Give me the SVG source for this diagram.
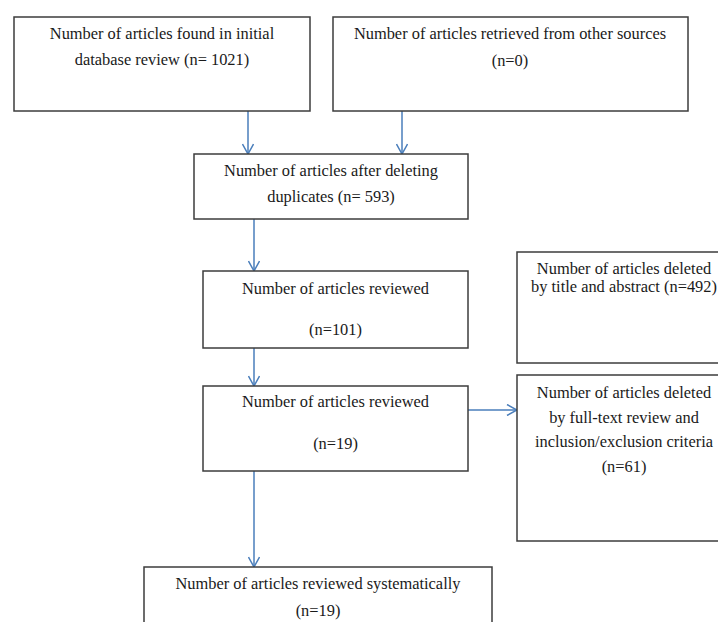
<svg xmlns="http://www.w3.org/2000/svg" width="718" height="622" viewBox="0 0 718 622">
  <style>
    .box { fill: #ffffff; stroke: #3c3c3c; stroke-width: 1.5; }
    .t { font-family: "Liberation Serif", "Times New Roman", serif; font-size: 16.4px; fill: #1a1a1a; text-anchor: middle; }
    .conn { stroke: #4a7ebb; stroke-width: 1.5; fill: none; marker-end: url(#arr); }
  </style>
  <defs>
    <marker id="arr" viewBox="0 0 12 12" refX="11" refY="6" markerWidth="12" markerHeight="12" markerUnits="userSpaceOnUse" orient="auto">
      <path d="M1,0.5 L11,6 L1,11.5" fill="none" stroke="#4a7ebb" stroke-width="1.5"/>
    </marker>
  </defs>
  <rect width="718" height="622" fill="#ffffff"/>

  <g id="connectors">
    <line class="conn" x1="248" y1="111" x2="248" y2="154"/>
    <line class="conn" x1="402" y1="111" x2="402" y2="154"/>
    <line class="conn" x1="254" y1="219" x2="254" y2="271"/>
    <line class="conn" x1="254" y1="348" x2="254" y2="386"/>
    <line class="conn" x1="468" y1="410" x2="517" y2="410"/>
    <line class="conn" x1="254" y1="471" x2="254" y2="567"/>
  </g>

  <g id="node-initial">
    <rect class="box" x="14" y="17" width="296" height="94"/>
    <text class="t" x="162" y="39">Number of articles found in initial</text>
    <text class="t" x="162" y="65">database review (n= 1021)</text>
  </g>

  <g id="node-other">
    <rect class="box" x="333" y="17" width="355" height="94"/>
    <text class="t" x="510" y="39">Number of articles retrieved from other sources</text>
    <text class="t" x="510" y="66">(n=0)</text>
  </g>

  <g id="node-dedup">
    <rect class="box" x="194" y="154" width="274" height="65"/>
    <text class="t" x="331" y="176">Number of articles after deleting</text>
    <text class="t" x="331" y="202">duplicates (n= 593)</text>
  </g>

  <g id="node-reviewed101">
    <rect class="box" x="203" y="271" width="265" height="77"/>
    <text class="t" x="335.5" y="294">Number of articles reviewed</text>
    <text class="t" x="335.5" y="335">(n=101)</text>
  </g>

  <g id="node-reviewed19">
    <rect class="box" x="203" y="386" width="265" height="85"/>
    <text class="t" x="335.5" y="407">Number of articles reviewed</text>
    <text class="t" x="335.5" y="449">(n=19)</text>
  </g>

  <g id="node-deleted492">
    <rect class="box" x="517" y="252" width="214" height="111"/>
    <text class="t" x="624" y="274">Number of articles deleted</text>
    <text class="t" x="624" y="292">by title and abstract (n=492)</text>
  </g>

  <g id="node-deleted61">
    <rect class="box" x="517" y="375" width="214" height="166"/>
    <text class="t" x="624" y="398">Number of articles deleted</text>
    <text class="t" x="624" y="423">by full-text review and</text>
    <text class="t" x="624" y="447">inclusion/exclusion criteria</text>
    <text class="t" x="624" y="472">(n=61)</text>
  </g>

  <g id="node-systematic">
    <rect class="box" x="144" y="567" width="348" height="60"/>
    <text class="t" x="318" y="589">Number of articles reviewed systematically</text>
    <text class="t" x="318" y="616">(n=19)</text>
  </g>
</svg>
